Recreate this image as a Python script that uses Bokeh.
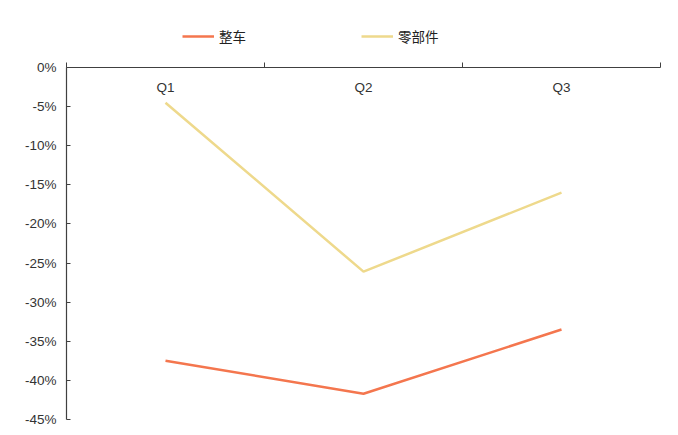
from bokeh.plotting import figure
from bokeh.layouts import column
from bokeh.models import Range1d, FixedTicker, CustomJSTickFormatter, Legend, LegendItem, LinearAxis, ColumnDataSource
from bokeh.core.properties import value
from bokeh.embed import file_html
from bokeh.resources import INLINE

# Quarterly year-on-year change, percent
quarters = ["Q1", "Q2", "Q3"]
vehicle = [-37.5, -41.7, -33.5]      # 整车
parts = [-4.5, -26.1, -16.0]         # 零部件
y_ticks = [0, -5, -10, -15, -20, -25, -30, -35, -40, -45]
series_names = ["整车", "零部件"]
series_colors = ["#F4764E", "#EED98C"]

xpos = [i + 0.5 for i in range(len(quarters))]

p = figure(width=678, height=380, output_backend="svg", toolbar_location=None,
           x_range=Range1d(0, 3), y_range=Range1d(-45, 0),
           x_axis_location=None, y_axis_location=None,
           min_border_left=66, min_border_right=18, min_border_top=12, min_border_bottom=16)
p.outline_line_color = None
p.grid.visible = False
p.background_fill_color = "white"
p.border_fill_color = "white"

# Left value axis
yax = LinearAxis(ticker=FixedTicker(ticks=y_ticks),
                 formatter=CustomJSTickFormatter(code="return tick.toFixed(0) + '%';"))
yax.axis_line_color = "#404040"
yax.axis_line_width = 1.2
yax.major_tick_line_color = "#404040"
yax.major_tick_in = 4
yax.major_tick_out = 0
yax.minor_tick_line_color = None
yax.major_label_text_font = "Liberation Sans"
yax.major_label_text_font_size = "13.5px"
yax.major_label_text_color = "#333333"
yax.major_label_standoff = 10
p.add_layout(yax, "left")

# Top category axis: boundary ticks only
xax = LinearAxis(ticker=FixedTicker(ticks=[0, 1, 2, 3]),
                 formatter=CustomJSTickFormatter(code="return '';"))
xax.axis_line_color = "#404040"
xax.axis_line_width = 1.2
xax.major_tick_line_color = "#404040"
xax.major_tick_in = 0
xax.major_tick_out = 5
xax.minor_tick_line_color = None
xax.major_label_text_font_size = "1px"
xax.major_label_standoff = 0
p.add_layout(xax, "above")

# Category labels just under the top axis
lab = ColumnDataSource(dict(x=xpos, y=[0] * len(quarters), t=quarters))
p.text(x="x", y="y", text="t", source=lab, text_align="center", text_baseline="top",
       y_offset=12, text_font=value("Liberation Sans"), text_font_size="13.5px",
       text_color="#333333")

p.line(xpos, vehicle, line_color=series_colors[0], line_width=2.5)
p.line(xpos, parts, line_color=series_colors[1], line_width=2.5)

# Legend strip above the chart (its key lines sit outside the visible range)
lg = figure(width=678, height=55, output_backend="svg", toolbar_location=None,
            x_range=Range1d(0, 1), y_range=Range1d(0, 1),
            x_axis_location=None, y_axis_location=None,
            min_border_left=0, min_border_right=0, min_border_top=0, min_border_bottom=0)
lg.outline_line_color = None
lg.grid.visible = False
lg.border_fill_color = "white"
items = []
for name, color in zip(series_names, series_colors):
    r = lg.line([-3, -2], [-3, -2], line_color=color, line_width=2.5)
    items.append(LegendItem(label=name, renderers=[r]))
legend = Legend(items=items, orientation="horizontal", location=(116, 9),
                label_text_font="Noto Sans CJK SC", label_text_font_size="13.5px",
                label_text_color="#222222", glyph_width=32, glyph_height=14,
                spacing=115, label_standoff=5, padding=4, margin=0,
                background_fill_alpha=0, border_line_color=None)
lg.add_layout(legend, "center")

open("out.html", "w").write(file_html(column(lg, p, spacing=0), INLINE))
